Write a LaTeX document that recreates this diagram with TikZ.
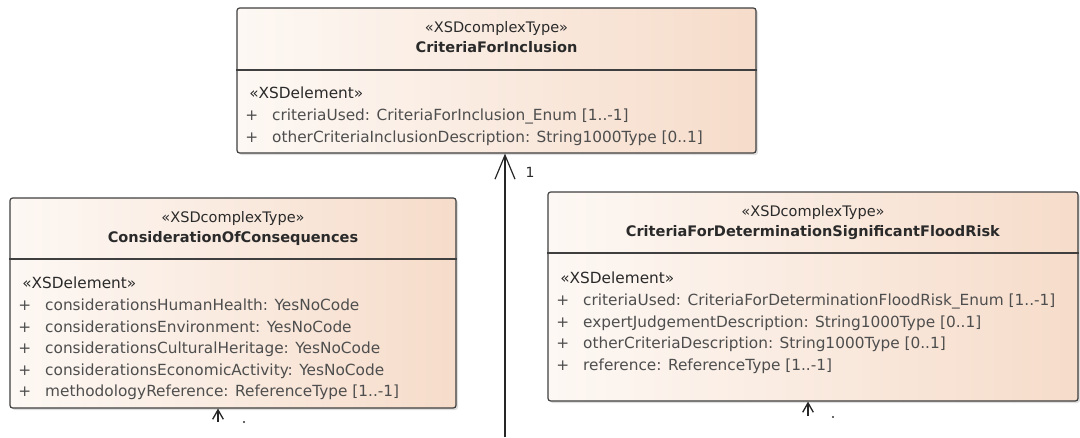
\documentclass[tikz,border=0pt]{standalone}
\usepackage{fontspec}
\setmainfont{DejaVu Sans}
\usepackage{tikz}
\usetikzlibrary{positioning,fit,shadows,arrows.meta}
\definecolor{boxline}{HTML}{3F3F3F}
\definecolor{peachL}{HTML}{FDF8F4}
\definecolor{peachR}{HTML}{F6DCCA}
\definecolor{headtext}{HTML}{2A2A2A}
\definecolor{attrtext}{HTML}{4E4E4E}
\newcommand{\pl}{\makebox[20.2pt][l]{+}}
\tikzset{
  umlbox/.style={
    draw=boxline, line width=0.9pt, rounded corners=2pt,
    left color=peachL, right color=peachR, inner sep=0pt,
    drop shadow={opacity=0.25, shadow xshift=1.5pt, shadow yshift=-1.5pt}
  },
  head/.style={
    align=center, anchor=north, inner sep=0pt, text=headtext,
    font=\fontsize{10.9}{15}\selectfont
  },
  attrs/.style={
    align=left, anchor=north west, inner sep=0pt, text=attrtext,
    font=\fontsize{11.5}{16.2}\selectfont
  },
  assoc/.style={draw=black!85, line width=0.9pt, -{Straight Barb[length=18pt,width=15pt]}},
  stub/.style={draw=black!85, line width=1pt, -{Straight Barb[length=7pt,width=8pt]}}
}

\begin{document}
\begin{tikzpicture}[x=0.75pt,y=-0.75pt]
  \useasboundingbox (0,0) rectangle (1080,437);
  % classes
  \node[umlbox, fit={(237,8) (756,153)}] (Incl) {};
  \node[umlbox, fit={(10,198) (456,408)}] (Cons) {};
  \node[umlbox, fit={(548,192) (1078,401)}] (Flood) {};

  \node[head, below=10.5pt of Incl.north] (InclHead)
  {«XSDcomplexType»\\\textbf{CriteriaForInclusion}};
  \node[head, below=10.5pt of Cons.north] (ConsHead)
  {«XSDcomplexType»\\\textbf{ConsiderationOfConsequences}};
  \node[head, below=10.5pt of Flood.north] (FloodHead)
  {«XSDcomplexType»\\\textbf{CriteriaForDeterminationSignificantFloodRisk}};

  \draw[boxline, line width=0.9pt] (Incl.west |- 0,70) -- (Incl.east |- 0,70);
  \draw[boxline, line width=0.9pt] (Cons.west |- 0,259) -- (Cons.east |- 0,259);
  \draw[boxline, line width=0.9pt] (Flood.west |- 0,253) -- (Flood.east |- 0,253);

  \node[attrs] (InclAttr) at (245,87)
  {\hspace*{3pt}{\color{headtext}«XSDelement»}\\
   \pl criteriaUsed: CriteriaForInclusion\_Enum [1..-1]\\
   \pl otherCriteriaInclusionDescription: String1000Type [0..1]};
  \node[attrs] (ConsAttr) at (18,277)
  {\hspace*{3pt}{\color{headtext}«XSDelement»}\\
   \pl considerationsHumanHealth: YesNoCode\\
   \pl considerationsEnvironment: YesNoCode\\
   \pl considerationsCulturalHeritage: YesNoCode\\
   \pl considerationsEconomicActivity: YesNoCode\\
   \pl methodologyReference: ReferenceType [1..-1]};
  \node[attrs] (FloodAttr) at (556,272)
  {\hspace*{3pt}{\color{headtext}«XSDelement»}\\
   \pl criteriaUsed: CriteriaForDeterminationFloodRisk\_Enum [1..-1]\\
   \pl expertJudgementDescription: String1000Type [0..1]\\
   \pl otherCriteriaDescription: String1000Type [0..1]\\
   \pl reference: ReferenceType [1..-1]};

  % associations
  \coordinate (InclFoot) at (505,437);
  \coordinate (ConsFoot) at (218,422);
  \coordinate (FloodFoot) at (808,416);
  \draw[assoc] (InclFoot) -- (InclFoot |- Incl.south);
  \node[text=headtext, font=\fontsize{10.5}{12}\selectfont, anchor=west] (InclMult) at (521,172) {1};
  \draw[stub] (ConsFoot) -- (ConsFoot |- Cons.south);
  \draw[stub] (FloodFoot) -- (FloodFoot |- Flood.south);
  \fill[black!80] (244,422) circle (1.1);
  \fill[black!80] (833,417) circle (1.1);
\end{tikzpicture}
\end{document}
